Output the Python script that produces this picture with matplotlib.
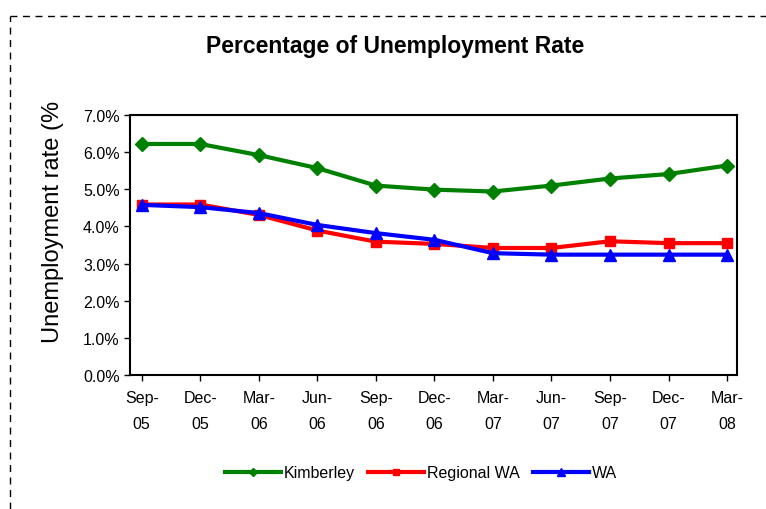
import matplotlib.pyplot as plt
from matplotlib.lines import Line2D
from matplotlib.ticker import FuncFormatter

plt.rcParams['font.family'] = ['Liberation Sans', 'DejaVu Sans']

quarters = ["Sep-\n05", "Dec-\n05", "Mar-\n06", "Jun-\n06", "Sep-\n06", "Dec-\n06",
            "Mar-\n07", "Jun-\n07", "Sep-\n07", "Dec-\n07", "Mar-\n08"]
kimberley = [6.22, 6.22, 5.92, 5.57, 5.10, 4.99, 4.94, 5.10, 5.29, 5.41, 5.64]
regional_wa = [4.59, 4.59, 4.31, 3.89, 3.59, 3.53, 3.42, 3.42, 3.60, 3.55, 3.55]
wa = [4.58, 4.52, 4.36, 4.04, 3.82, 3.64, 3.28, 3.24, 3.24, 3.24, 3.24]

fig = plt.figure(figsize=(7.66, 5.1), dpi=100)
ax = fig.add_axes([130 / 766, 1 - 376 / 510, 607 / 766, 260 / 510])

x = range(len(quarters))
ax.plot(x, kimberley, color="#008000", lw=3, marker="D", ms=7.5, label="Kimberley")
ax.plot(x, regional_wa, color="#ff0000", lw=3, marker="s", ms=7.5, label="Regional WA")
ax.plot(x, wa, color="#0000ff", lw=3, marker="^", ms=9, label="WA")

ax.set_ylim(0, 7)
ax.set_yticks(range(8))
ax.yaxis.set_major_formatter(FuncFormatter(lambda v, p: f"{v:.1f}%"))
ax.set_xlim(-0.2, 10.17)
ax.set_xticks(list(x))
ax.set_xticklabels(quarters, linespacing=1.9)
ax.tick_params(labelsize=11.5, direction="out", length=4, width=1, colors="black")
ax.tick_params(axis="x", pad=7)
for s in ax.spines.values():
    s.set_linewidth(1.5)

fig.text(395 / 766, 1 - 46 / 510, "Percentage of Unemployment Rate", fontsize=16.5,
         fontweight="bold", ha="center", va="center")

fig.text(53 / 766, 1 - 222 / 510, "Unemployment rate (%", fontsize=17,
         rotation=90, ha="center", va="center")

fig.legend(loc="center", bbox_to_anchor=(421 / 766, 1 - 474 / 510), ncol=3,
           frameon=False, fontsize=11.5, handlelength=3.5, handletextpad=0.2,
           columnspacing=0.8, markerscale=0.6)

# dashed frame, cut on the right and bottom as in the original
fig.add_artist(Line2D([10 / 766, 1], [1 - 17 / 510] * 2, transform=fig.transFigure,
                      color="black", lw=1, ls=(0, (5, 4))))
fig.add_artist(Line2D([10 / 766] * 2, [0, 1 - 17 / 510], transform=fig.transFigure,
                      color="black", lw=1, ls=(0, (5, 4))))

fig.savefig("out.png", dpi=100)
